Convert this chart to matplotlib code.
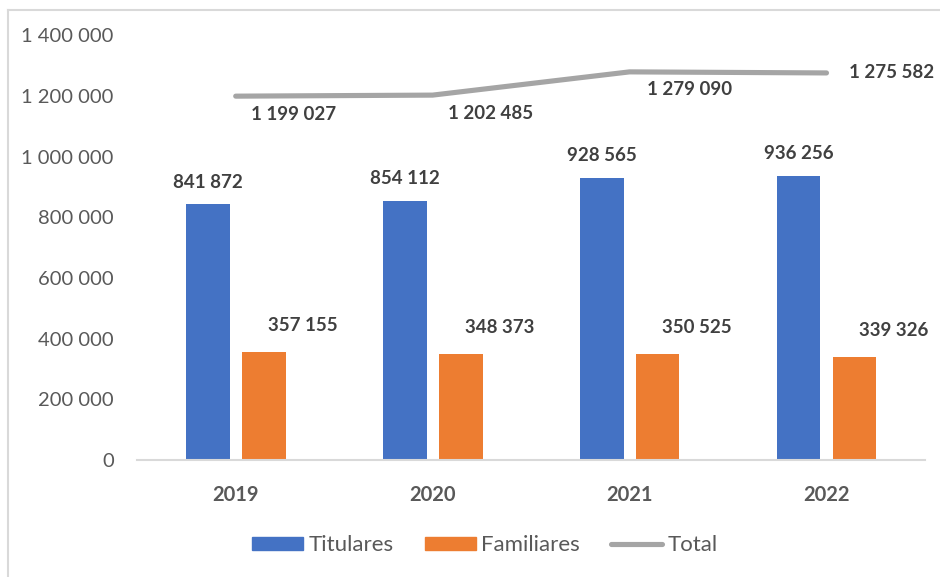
import matplotlib.pyplot as plt
from matplotlib.lines import Line2D
from matplotlib.ticker import FuncFormatter
import numpy as np

plt.rcParams['font.family'] = ['Lato', 'DejaVu Sans']

years = ['2019', '2020', '2021', '2022']
titulares = [841872, 854112, 928565, 936256]
familiares = [357155, 348373, 350525, 339326]
total = [1199027, 1202485, 1279090, 1275582]

blue = '#4472C4'
orange = '#ED7D31'
grey = '#A5A5A5'
text_col = '#595959'
label_col = '#404040'


def fmt(v):
    return f'{int(v):,}'.replace(',', ' ')


fig = plt.figure(figsize=(9.4, 5.77), dpi=100)
ax = fig.add_axes([0.146, 0.203, 0.838, 0.736])

x = np.arange(len(years))
w = 0.223
off = 0.142

ax.bar(x - off, titulares, w, color=blue, label='Titulares')
ax.bar(x + off, familiares, w, color=orange, label='Familiares')
ax.plot(x, total, color=grey, lw=3.7, solid_capstyle='round', label='Total')

for xi, v in zip(x, titulares):
    ax.annotate(fmt(v), (xi - off, v), xytext=(0, 16), textcoords='offset points',
                ha='center', va='center', fontsize=13.5, fontweight='bold', color=label_col)
for xi, v in zip(x, familiares):
    ax.annotate(fmt(v), (xi + off, v), xytext=(28, 19), textcoords='offset points',
                ha='center', va='center', fontsize=13.5, fontweight='bold', color=label_col)

# labels of the total line: first three below, last one beside the end
line_offsets = [(42, -13), (42, -13), (43, -13), (47, 0)]
for xi, v, (dx, dy) in zip(x, total, line_offsets):
    ax.annotate(fmt(v), (xi, v), xytext=(dx, dy), textcoords='offset points',
                ha='center', va='center', fontsize=13.5, fontweight='bold', color=label_col)

ax.set_xlim(-0.5, 3.5)
ax.set_ylim(0, 1400000)
ax.set_yticks(range(0, 1400001, 200000))
ax.yaxis.set_major_formatter(FuncFormatter(lambda v, p: fmt(v)))
ax.set_xticks(x)
ax.set_xticklabels(years, fontweight='bold')
ax.tick_params(axis='y', length=0, pad=17, labelsize=14.5, labelcolor=text_col)
ax.tick_params(axis='x', length=0, pad=18, labelsize=14.5, labelcolor=text_col)

for s in ['top', 'right', 'left']:
    ax.spines[s].set_visible(False)
ax.spines['bottom'].set_color('#D9D9D9')
ax.spines['bottom'].set_linewidth(1.5)

handles = [
    plt.Rectangle((0, 0), 1, 1, color=blue),
    plt.Rectangle((0, 0), 1, 1, color=orange),
    Line2D([0], [0], color=grey, lw=3.7, solid_capstyle='round'),
]
fig.legend(handles, ['Titulares', 'Familiares', 'Total'], loc='center',
           bbox_to_anchor=(0.516, 0.055), ncol=3, frameon=False,
           fontsize=16, labelcolor=text_col, handlelength=2.3, handleheight=0.55,
           handletextpad=0.25, columnspacing=1.4)

# chart frame edges (top and left)
fig.add_artist(Line2D([8 / 940, 8 / 940], [0, 1 - 10 / 577], transform=fig.transFigure,
                      color='#D9D9D9', lw=1.5))
fig.add_artist(Line2D([8 / 940, 1], [1 - 10 / 577, 1 - 10 / 577], transform=fig.transFigure,
                      color='#D9D9D9', lw=1.5))

fig.savefig('out.png', dpi=100)
